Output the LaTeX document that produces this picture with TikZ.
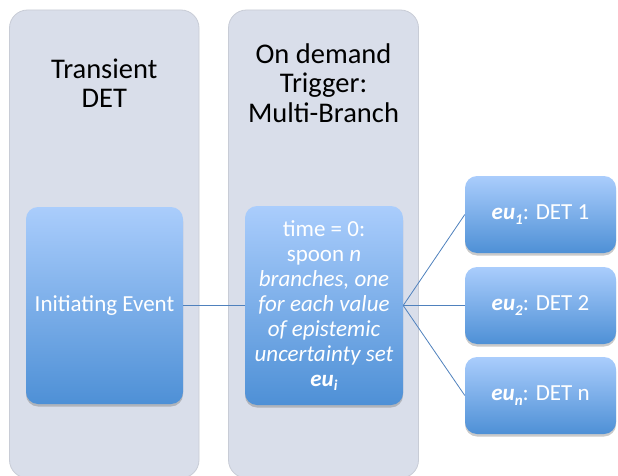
\documentclass[tikz,border=0pt]{standalone}
\usepackage{fontspec}
\setmainfont{Carlito}
\usetikzlibrary{shadows}
\definecolor{colfill}{RGB}{217,222,234}
\definecolor{colline}{RGB}{200,204,214}
\definecolor{btop}{RGB}{170,205,252}
\definecolor{bbot}{RGB}{78,144,214}
\definecolor{conn}{RGB}{79,129,189}
\newcommand\lowsub[1]{\raisebox{-0.4ex}{\fontsize{15}{15}\selectfont #1}}
\tikzset{
  column/.style={draw=colline, line width=0.8pt, fill=colfill, rounded corners=18pt, inner sep=0pt},
  header/.style={text=black, align=center, font={\fontsize{28.5}{29.5}\selectfont}},
  bluebox/.style={rounded corners=12pt, top color=btop, bottom color=bbot, draw=none,
    text=white, align=center, inner sep=0pt,
    drop shadow={shadow xshift=0pt, shadow yshift=-2.5pt, opacity=0.35, fill=black!60}},
  link/.style={draw=conn, line width=0.8pt}
}
\begin{document}
\begin{tikzpicture}[x=1pt, y=-1pt]
\useasboundingbox (0,0) rectangle (618,476);
\begin{scope}
\clip (0,0) rectangle (618,476);
% columns
\node[column, minimum width=189.5pt, minimum height=468pt] (colA) at (104.25,244) {};
\node[column, minimum width=190pt, minimum height=468pt] (colB) at (323.5,244) {};
\node[header] (hA) at (104.25,83) {Transient\\DET};
\node[header] (hB) at (323.5,83) {On demand\\Trigger:\\Multi-Branch};
% boxes
\node[bluebox, minimum width=157pt, minimum height=197pt, font={\fontsize{23}{25}\selectfont}] (init) at (104.5,305.5) {Initiating Event};
\node[bluebox, minimum width=158pt, minimum height=199pt, font={\fontsize{23}{25}\selectfont}] (mid) at (324,305.5)
  {time = 0:\\spoon \textit{n}\\\textit{branches, one}\\\textit{for each value}\\\textit{of epistemic}\\\textit{uncertainty set}\\\textbf{\textit{eu\lowsub{i}}}};
\node[bluebox, minimum width=151pt, minimum height=77pt, font={\fontsize{23}{25}\selectfont}] (r1) at (540.5,214.5) {\textbf{\textit{eu\lowsub{1}}}: DET 1};
\node[bluebox, minimum width=151pt, minimum height=77pt, font={\fontsize{23}{25}\selectfont}] (r2) at (540.5,305.5) {\textbf{\textit{eu\lowsub{2}}}: DET 2};
\node[bluebox, minimum width=151pt, minimum height=77pt, font={\fontsize{23}{25}\selectfont}] (r3) at (540.5,395.5) {\textbf{\textit{eu\lowsub{n}}}: DET n};
% connectors
\draw[link] (init.east) -- (mid.west);
\draw[link] (mid.east) -- (r1.west);
\draw[link] (mid.east) -- (r2.west);
\draw[link] (mid.east) -- (r3.west);
\end{scope}
\end{tikzpicture}
\end{document}
